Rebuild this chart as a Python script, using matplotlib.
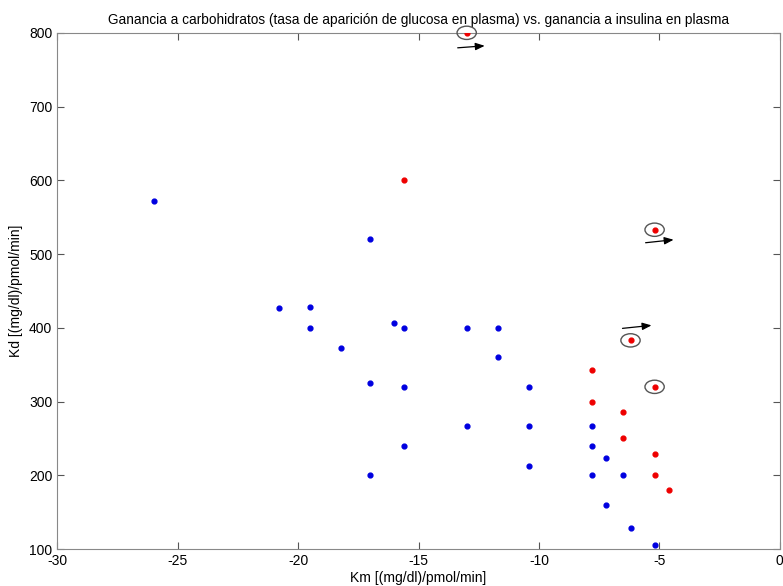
import matplotlib.pyplot as plt
from matplotlib.patches import Ellipse

plt.rcParams['font.family'] = ['Liberation Sans', 'DejaVu Sans']
plt.rcParams['axes.unicode_minus'] = False

# Datos
km_azul = [-26, -20.8, -19.5, -19.5, -18.2, -17, -17, -17, -16, -15.6, -15.6, -15.6,
           -13, -13, -11.7, -11.7, -10.4, -10.4, -10.4, -7.8, -7.8, -7.8, -7.2, -7.2,
           -6.5, -6.2, -5.2]
kd_azul = [572, 427, 428, 400, 373, 520, 325, 200, 407, 400, 320, 240,
           400, 267, 400, 360, 320, 267, 213, 267, 240, 200, 223, 160,
           200, 128, 105]

km_rojo = [-13, -15.6, -5.2, -6.2, -5.2, -7.8, -7.8, -6.5, -6.5, -5.2, -5.2, -4.6]
kd_rojo = [800, 600, 533, 383, 320, 343, 300, 286, 250, 229, 200, 180]

# puntos marcados con círculo
marcados = [0, 2, 3, 4]
# flechas: índice del punto marcado -> desplazamientos (px) inicio y fin
flechas = {0: ((-9, -15), (18, -13)), 2: ((-9, -13), (19, -10)), 3: ((-8, 12), (21, 15))}

fig = plt.figure(figsize=(7.83, 5.86), dpi=100)
ax = fig.add_axes([0.073, 0.063, 0.923, 0.881])

ax.scatter(km_azul, kd_azul, s=12, color='#0000e0', zorder=3)
ax.scatter(km_rojo, kd_rojo, s=12, color='#ee0000', zorder=3)

for i in marcados:
    ax.add_patch(Ellipse((km_rojo[i], kd_rojo[i]), 0.8, 18, fill=False,
                         edgecolor='#555555', linewidth=1, clip_on=False, zorder=4))

ax.set_xlim(-30, 0)
ax.set_ylim(100, 800)

# flechas junto a los puntos marcados
for i, (ini, fin) in flechas.items():
    x0, y0 = ax.transData.transform((km_rojo[i], kd_rojo[i]))
    p0 = ax.transData.inverted().transform((x0 + ini[0], y0 + ini[1]))
    p1 = ax.transData.inverted().transform((x0 + fin[0], y0 + fin[1]))
    ax.annotate('', xy=p1, xytext=p0, annotation_clip=False,
                arrowprops=dict(arrowstyle='-|>,head_length=0.55,head_width=0.22',
                                color='black', lw=0.9, shrinkA=0, shrinkB=0))

ax.set_xticks(range(-30, 1, 5))
ax.set_yticks(range(100, 801, 100))
ax.tick_params(direction='in', top=True, right=True, labelsize=10, length=5, color='#555555')
for s in ax.spines.values():
    s.set_color('#888888')

ax.set_title('Ganancia a carbohidratos (tasa de aparición de glucosa en plasma) vs. ganancia a insulina en plasma',
             fontsize=9.8, pad=6)
ax.set_xlabel('Km [(mg/dl)/pmol/min]', fontsize=10, labelpad=2)
ax.set_ylabel('Kd [(mg/dl)/pmol/min]', fontsize=10, labelpad=4)

plt.savefig('out.png', dpi=100)
